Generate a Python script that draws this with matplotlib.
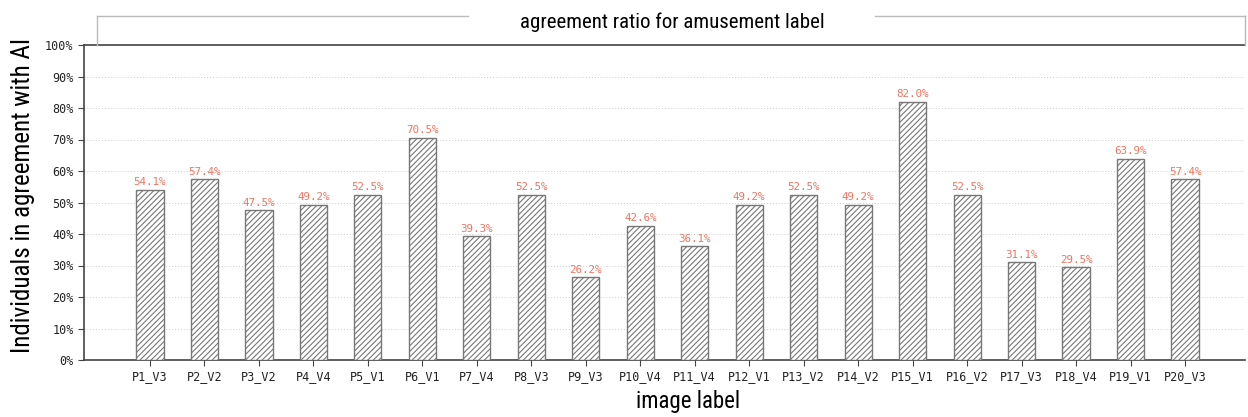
import matplotlib
matplotlib.use("Agg")
import matplotlib.pyplot as plt
from matplotlib.lines import Line2D
from matplotlib.ticker import PercentFormatter
from matplotlib import font_manager

categories = ["P1_V3", "P2_V2", "P3_V2", "P4_V4", "P5_V1", "P6_V1", "P7_V4", "P8_V3",
              "P9_V3", "P10_V4", "P11_V4", "P12_V1", "P13_V2", "P14_V2", "P15_V1",
              "P16_V2", "P17_V3", "P18_V4", "P19_V1", "P20_V3"]
values = [54.1, 57.4, 47.5, 49.2, 52.5, 70.5, 39.3, 52.5, 26.2, 42.6,
          36.1, 49.2, 52.5, 49.2, 82.0, 52.5, 31.1, 29.5, 63.9, 57.4]

title = "agreement ratio for amusement label"
xlabel = "image label"
ylabel = "Individuals in agreement with AI"

available = {f.name for f in font_manager.fontManager.ttflist}
cands = ["Roboto Condensed", "Liberation Sans Narrow", "Open Sans Condensed", "Roboto"]
label_font = [c for c in cands if c in available][:1] + ["DejaVu Sans"]
mono = "DejaVu Sans Mono"

fig = plt.figure(figsize=(12.48, 4.17), dpi=100)
ax = fig.add_axes([84/1248, 57/417, (1245-84)/1248, (360-45)/417])

x = list(range(len(categories)))
plt.rcParams['hatch.linewidth'] = 0.8
bars = ax.bar(x, values, width=0.5, facecolor="white", edgecolor="#777777",
              hatch="//////", linewidth=1.0, zorder=3)

for xi, v in zip(x, values):
    ax.text(xi, v + 0.8, f"{v:.1f}%", ha="center", va="bottom",
            fontsize=7.8, family=mono, color="#ef7560", zorder=4)

ax.set_xlim(-1.21, 20.1)
ax.set_ylim(0, 100)
ax.set_yticks(range(0, 101, 10))
ax.yaxis.set_major_formatter(PercentFormatter(decimals=0))
ax.set_xticks(x)
ax.set_xticklabels(categories)
for lab in ax.get_xticklabels() + ax.get_yticklabels():
    lab.set_family(mono)
    lab.set_fontsize(8.5)
    lab.set_color("#222222")

ax.grid(axis="y", linestyle=(0, (1, 2)), color="#cccccc", linewidth=0.7, zorder=0)
ax.set_axisbelow(True)

for s in ["left", "bottom", "top"]:
    ax.spines[s].set_color("#444444")
    ax.spines[s].set_linewidth(1.2)
ax.spines["right"].set_visible(False)
ax.tick_params(axis="both", color="#444444", length=4)

ax.set_xlabel(xlabel, family=label_font, fontsize=16.5)
ax.xaxis.set_label_coords((688-84)/1161, -0.095)
ax.set_ylabel(ylabel, family=label_font, fontsize=18)
ax.yaxis.set_label_coords(-0.042, 0.524)

# Title box (top border broken around the title)
x0, x1 = 97/1248, 1245/1248
y0, y1 = (417-45)/417, (417-16)/417
g0, g1 = 468/1248, 875/1248
box_color = "#bbbbbb"
for xs, ys in [([x0, x0], [y0, y1]), ([x0, g0], [y1, y1]), ([g1, x1], [y1, y1]),
               ([x1, x1], [y1, y0])]:
    fig.add_artist(Line2D(xs, ys, transform=fig.transFigure, color=box_color, linewidth=1.0))
fig.text(672/1248, (417-22)/417, title, ha="center", va="center",
         family=label_font, fontsize=15)

fig.savefig("out.png", dpi=100)
